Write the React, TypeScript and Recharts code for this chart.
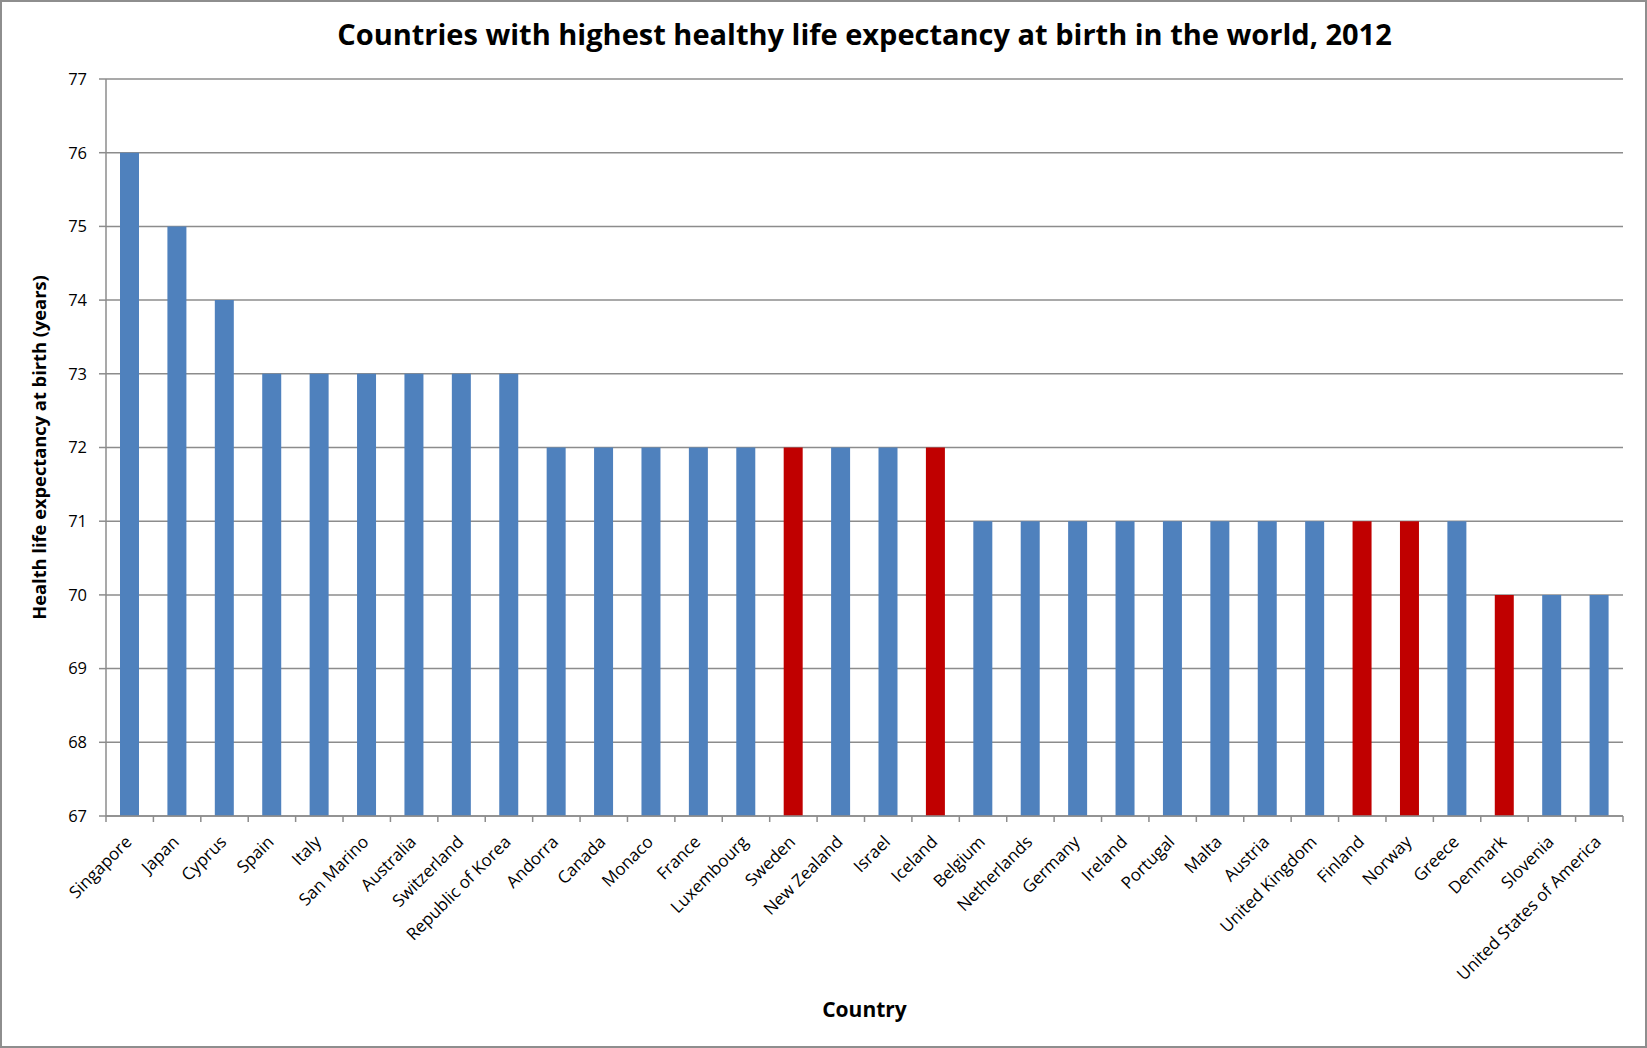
import { Bar, BarChart, CartesianGrid, Cell, Label, XAxis, YAxis } from "recharts";

const countries = [
  "Singapore", "Japan", "Cyprus", "Spain", "Italy", "San Marino", "Australia", "Switzerland",
  "Republic of Korea", "Andorra", "Canada", "Monaco", "France", "Luxembourg", "Sweden",
  "New Zealand", "Israel", "Iceland", "Belgium", "Netherlands", "Germany", "Ireland",
  "Portugal", "Malta", "Austria", "United Kingdom", "Finland", "Norway", "Greece", "Denmark",
  "Slovenia", "United States of America",
];

const healthyLifeExpectancy = [
  76, 75, 74, 73, 73, 73, 73, 73, 73, 72, 72, 72, 72, 72, 72, 72, 72, 72,
  71, 71, 71, 71, 71, 71, 71, 71, 71, 71, 71, 70, 70, 70,
];

// countries drawn in red in the original
const highlighted = ["Sweden", "Iceland", "Finland", "Norway", "Denmark"];

const yTicks = [67, 68, 69, 70, 71, 72, 73, 74, 75, 76, 77];

const WIDTH = 1647;
const HEIGHT = 1048;
const MARGIN = { top: 79, right: 24, bottom: 0, left: 40 };
const Y_AXIS_WIDTH = 66;
const PLOT_WIDTH = WIDTH - MARGIN.left - MARGIN.right - Y_AXIS_WIDTH;
const GREY = "#8c8c8c";
const FONT = "'Open Sans', 'Noto Sans', sans-serif";

const data = countries.map((name, i) => ({ name, value: healthyLifeExpectancy[i] }));

function CountryTick(props: any) {
  const { x, y, payload, index } = props;
  const half = PLOT_WIDTH / countries.length / 2;
  const tx = x + 3;
  const ty = y + 27;
  return (
    <g>
      <line x1={x - half} y1={y} x2={x - half} y2={y + 6} stroke={GREY} strokeWidth={1.5} />
      {index === countries.length - 1 && (
        <line x1={x + half} y1={y} x2={x + half} y2={y + 6} stroke={GREY} strokeWidth={1.5} />
      )}
      <text
        x={tx}
        y={ty}
        transform={`rotate(-45, ${tx}, ${ty})`}
        textAnchor="end"
        fontSize={17}
        fill="#000"
      >
        {payload.value}
      </text>
    </g>
  );
}

export default function App() {
  return (
    <div
      style={{
        position: "absolute",
        left: 0,
        top: 0,
        width: WIDTH,
        height: HEIGHT,
        background: "#fff",
        fontFamily: FONT,
      }}
    >
      <div
        style={{
          position: "absolute",
          left: MARGIN.left + Y_AXIS_WIDTH,
          width: PLOT_WIDTH,
          top: 14,
          lineHeight: "40px",
          textAlign: "center",
          fontSize: 29,
          fontWeight: "bold",
          color: "#000",
        }}
      >
        Countries with highest healthy life expectancy at birth in the world, 2012
      </div>
      <BarChart width={WIDTH} height={HEIGHT} data={data} margin={MARGIN}>
        <CartesianGrid vertical={false} stroke={GREY} strokeWidth={1.5} />
        <XAxis
          dataKey="name"
          interval={0}
          height={HEIGHT - 816}
          tickSize={0}
          tickMargin={0}
          tickLine={false}
          axisLine={{ stroke: GREY, strokeWidth: 1.5 }}
          tick={<CountryTick />}
        >
          <Label
            value="Country"
            position="insideBottom"
            offset={31}
            style={{ fontWeight: "bold", fontSize: 21, fill: "#000" }}
          />
        </XAxis>
        <YAxis
          width={Y_AXIS_WIDTH}
          domain={[67, 77]}
          ticks={yTicks}
          interval={0}
          tickSize={7}
          tickMargin={12}
          tickLine={{ stroke: GREY, strokeWidth: 1.5 }}
          axisLine={{ stroke: GREY, strokeWidth: 1.5 }}
          tick={{ fill: "#000", fontSize: 16.5 }}
        >
          <Label
            value="Health life expectancy at birth (years)"
            angle={-90}
            position="insideLeft"
            offset={0}
            style={{ textAnchor: "middle", fontWeight: "bold", fontSize: 18.3, fill: "#000" }}
          />
        </YAxis>
        <Bar dataKey="value" barSize={19} isAnimationActive={false}>
          {data.map((d) => (
            <Cell key={d.name} fill={highlighted.includes(d.name) ? "#C00000" : "#4F81BD"} />
          ))}
        </Bar>
      </BarChart>
      <div
        style={{
          position: "absolute",
          left: 0,
          top: 0,
          width: WIDTH,
          height: HEIGHT,
          boxSizing: "border-box",
          border: "2px solid #8e8e8e",
          pointerEvents: "none",
        }}
      />
    </div>
  );
}
